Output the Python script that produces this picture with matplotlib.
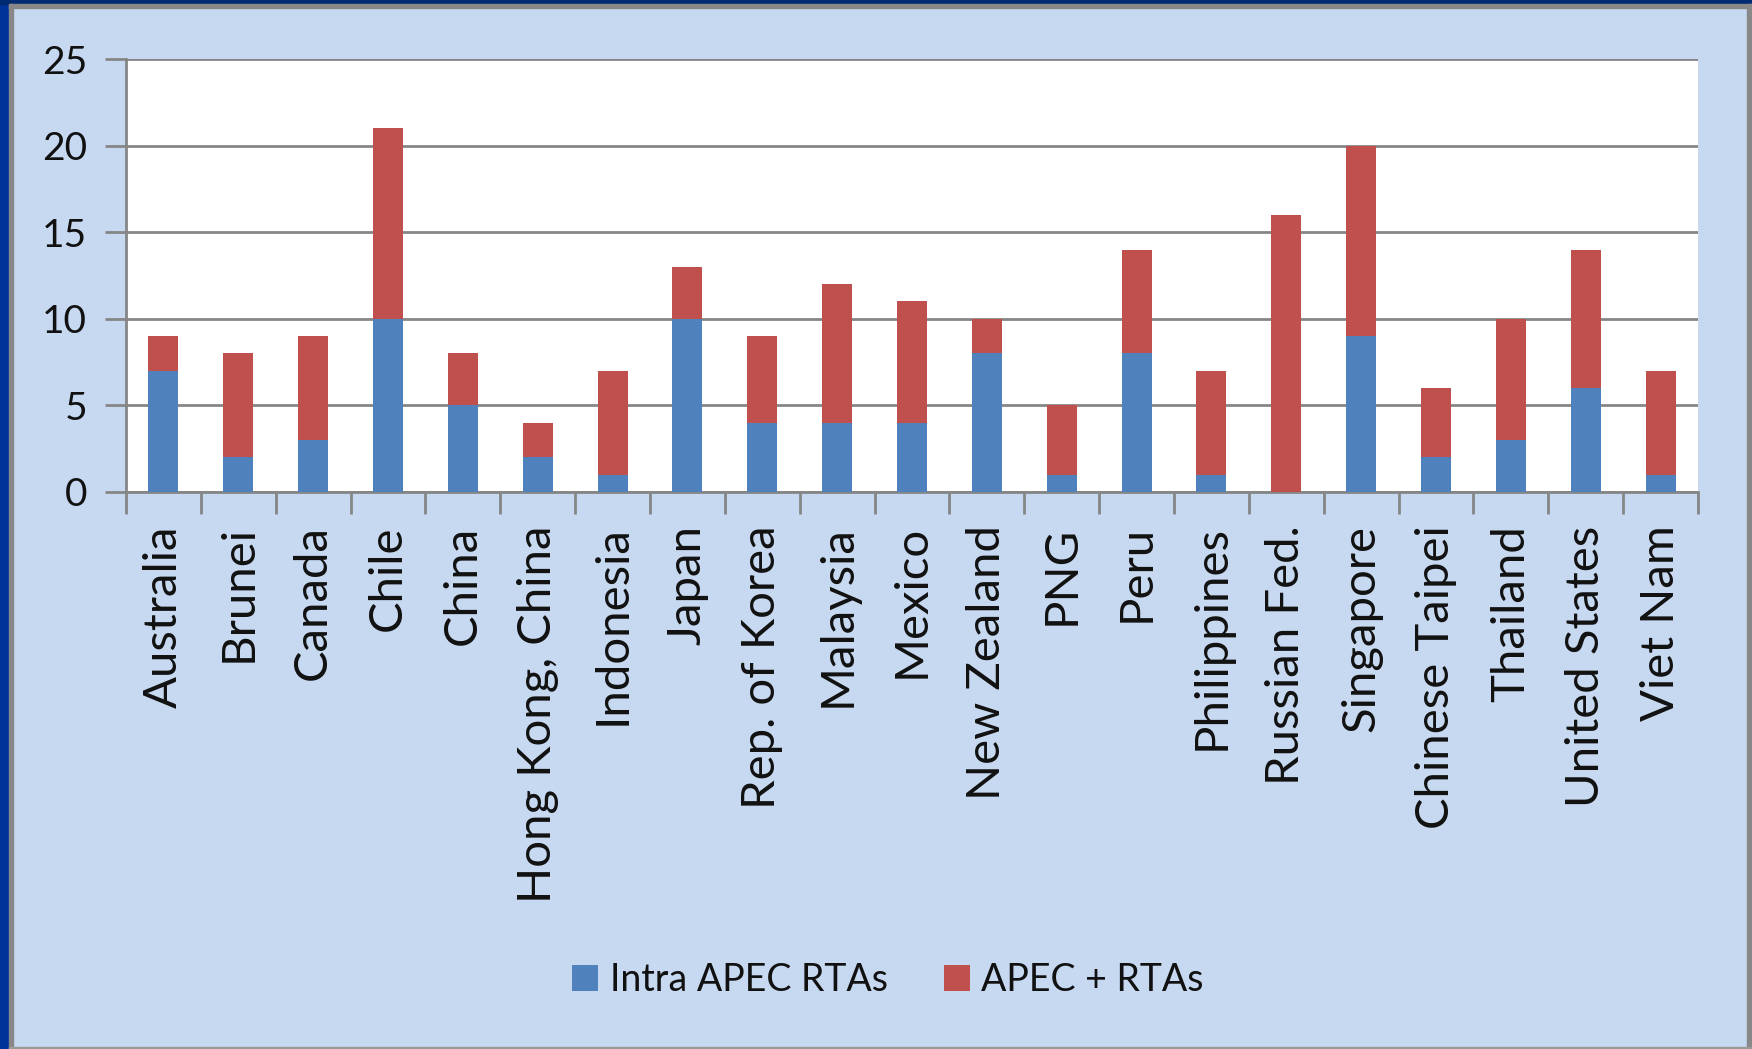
import matplotlib
matplotlib.use("Agg")
import matplotlib.pyplot as plt
from matplotlib.patches import Rectangle
import numpy as np

countries = ["Australia", "Brunei", "Canada", "Chile", "China", "Hong Kong, China",
             "Indonesia", "Japan", "Rep. of Korea", "Malaysia", "Mexico", "New Zealand",
             "PNG", "Peru", "Philippines", "Russian Fed.", "Singapore", "Chinese Taipei",
             "Thailand", "United States", "Viet Nam"]
intra_apec = [7, 2, 3, 10, 5, 2, 1, 10, 4, 4, 4, 8, 1, 8, 1, 0, 9, 2, 3, 6, 1]
apec_plus = [2, 6, 6, 11, 3, 2, 6, 3, 5, 8, 7, 2, 4, 6, 6, 16, 11, 4, 7, 8, 6]
series_names = ["Intra APEC RTAs", "APEC + RTAs"]
yticks = [0, 5, 10, 15, 20, 25]

plt.rcParams['font.family'] = ['Lato', 'DejaVu Sans']
W, H = 1752, 1049
fig = plt.figure(figsize=(W / 100, H / 100), dpi=100)
bg = '#C6D9F0'
fig.patch.set_facecolor(bg)

# frame decorations
def frect(x, y, w, h, c):
    fig.patches.append(Rectangle((x / W, 1 - (y + h) / H), w / W, h / H,
                                 transform=fig.transFigure, color=c, zorder=-10))
frect(0, 0, 9, H, '#00339A')
frect(0, 0, W, 4, '#002A72')
frect(9, 4, 4, H - 4, '#888888')
frect(9, 4, W - 9, 4, '#888888')
frect(W - 5, 4, 5, H - 4, '#888888')
frect(9, H - 2, W - 9, 2, '#999999')

left, right, top, bottom = 126, 1698, 59, 492
ax = fig.add_axes([left / W, 1 - bottom / H, (right - left) / W, (bottom - top) / H])
ax.set_facecolor('white')

x = np.arange(len(countries))
blue = '#4F81BD'
red = '#C0504D'
ax.bar(x, intra_apec, width=0.4, color=blue, label=series_names[0], zorder=3)
ax.bar(x, apec_plus, width=0.4, bottom=intra_apec, color=red, label=series_names[1], zorder=3)

ax.set_xlim(-0.5, len(countries) - 0.5)
ax.set_ylim(0, 25)
ax.set_yticks(yticks)
ax.yaxis.grid(True, color='#868686', linewidth=2, zorder=1)
ax.set_axisbelow(True)

for s in ['top', 'right']:
    ax.spines[s].set_visible(False)
for s in ['left', 'bottom']:
    ax.spines[s].set_color('#868686')
    ax.spines[s].set_linewidth(2)

ax.set_xticks(x)
ax.set_xticklabels(countries, rotation=90, fontsize=34, color='#111111')
ax.tick_params(axis='x', which='major', length=0, pad=24)
ax.set_xticks(np.arange(-0.5, len(countries)), minor=True)
ax.tick_params(axis='x', which='minor', length=16, width=2, color='#868686')
ax.tick_params(axis='y', length=15, width=2, color='#868686', pad=13, labelsize=28,
               labelcolor='#111111')

leg = fig.legend(loc='center', bbox_to_anchor=(888 / W, 1 - 980 / H), ncol=2,
                 frameon=False, fontsize=27, handlelength=0.7, handleheight=0.7,
                 handletextpad=0.3, columnspacing=1.5)
for t in leg.get_texts():
    t.set_color('#111111')

fig.savefig('out.png', dpi=100, facecolor=fig.get_facecolor())
